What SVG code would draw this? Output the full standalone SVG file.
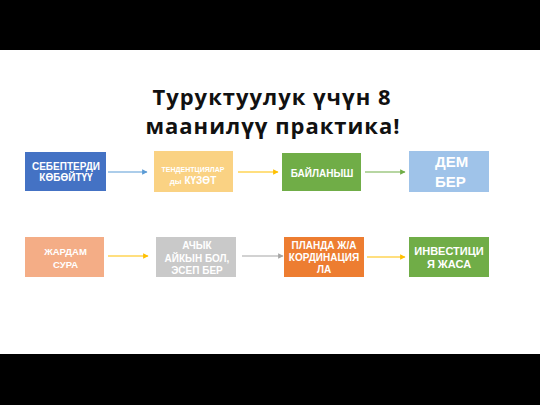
<svg xmlns="http://www.w3.org/2000/svg" width="540" height="405" viewBox="0 0 540 405">
<style>
.t{font-family:"Liberation Sans",Arial,sans-serif;font-weight:bold;fill:#fff;text-anchor:middle}
.title{font-family:"Open Sans","Liberation Sans",sans-serif;font-weight:bold;font-size:22px;letter-spacing:1px;fill:#111;text-anchor:middle}
.c{fill:none;stroke-width:1.2}
</style>
<defs>
<marker id="mb" viewBox="0 0 10 10" refX="9" refY="5" markerWidth="4.5" markerHeight="4.5" orient="auto"><path d="M0,0L10,5L0,10z" fill="#5B9BD5"/></marker>
<marker id="my" viewBox="0 0 10 10" refX="9" refY="5" markerWidth="4.5" markerHeight="4.5" orient="auto"><path d="M0,0L10,5L0,10z" fill="#FFC000"/></marker>
<marker id="mg" viewBox="0 0 10 10" refX="9" refY="5" markerWidth="4.5" markerHeight="4.5" orient="auto"><path d="M0,0L10,5L0,10z" fill="#70AD47"/></marker>
<marker id="mr" viewBox="0 0 10 10" refX="9" refY="5" markerWidth="4.5" markerHeight="4.5" orient="auto"><path d="M0,0L10,5L0,10z" fill="#A5A5A5"/></marker>
</defs>
<rect x="0" y="0" width="540" height="405" fill="#fff"/>
<rect x="0" y="0" width="540" height="50" fill="#000"/>
<rect x="0" y="354" width="540" height="51" fill="#000"/>
<text class="title" x="272" y="105">Туруктуулук үчүн 8</text>
<text class="title" x="273" y="134">маанилүү практика!</text>
<g id="connectors">
<line class="c" x1="108" y1="172" x2="147" y2="172" stroke="#5B9BD5" marker-end="url(#mb)"/>
<line class="c" x1="238" y1="172" x2="278" y2="172" stroke="#FFC000" marker-end="url(#my)"/>
<line class="c" x1="365" y1="172" x2="405" y2="172" stroke="#70AD47" marker-end="url(#mg)"/>
<line class="c" x1="108" y1="256" x2="148" y2="256" stroke="#FFC000" marker-end="url(#my)"/>
<line class="c" x1="242" y1="256" x2="283" y2="256" stroke="#A5A5A5" marker-end="url(#mr)"/>
<line class="c" x1="367" y1="257" x2="405" y2="257" stroke="#FFC000" marker-end="url(#my)"/>
</g>
<g id="n1"><rect x="25" y="152" width="81" height="39" fill="#4472C4"/>
<text class="t" x="66" y="169.5" font-size="10">СЕБЕПТЕРДИ</text><text class="t" x="66" y="181" font-size="10">КӨБӨЙТҮҮ</text></g>
<g id="n2"><rect x="154" y="151" width="79" height="41" fill="#FAD283"/>
<text class="t" x="193" y="172" font-size="7">ТЕНДЕНТЦИЯЛАР</text><text class="t" x="193" y="183.5" font-size="10"><tspan font-size="8">ды</tspan> КҮЗӨТ</text></g>
<g id="n3"><rect x="282" y="153" width="79" height="38" fill="#70AD47"/>
<text class="t" x="322" y="177" font-size="10">БАЙЛАНЫШ</text></g>
<g id="n4"><rect x="409" y="151" width="80" height="41" fill="#9FC3E9"/>
<text class="t" x="435" y="167" font-size="15" style="text-anchor:start">ДЕМ</text><text class="t" x="435" y="187" font-size="15" style="text-anchor:start">БЕР</text></g>
<g id="n5"><rect x="25" y="237" width="79" height="40" fill="#F4AD86"/>
<text class="t" x="65.5" y="255" font-size="9.5">ЖАРДАМ</text><text class="t" x="65.5" y="268" font-size="9.5">СУРА</text></g>
<g id="n6"><rect x="156" y="237" width="80" height="40" fill="#C9C9C9"/>
<text class="t" x="197" y="249" font-size="10">АЧЫК</text><text class="t" x="197" y="261.5" font-size="10">АЙКЫН БОЛ,</text><text class="t" x="197" y="274" font-size="10">ЭСЕП БЕР</text></g>
<g id="n7"><rect x="284" y="237" width="80" height="40" fill="#ED7D31"/>
<text class="t" x="324" y="249" font-size="10">ПЛАНДА Ж/А</text><text class="t" x="324" y="261" font-size="10">КОРДИНАЦИЯ</text><text class="t" x="324" y="273" font-size="10">ЛА</text></g>
<g id="n8"><rect x="409" y="237" width="80" height="40" fill="#70AD47"/>
<text class="t" x="449" y="255" font-size="11">ИНВЕСТИЦИ</text><text class="t" x="449" y="267.5" font-size="11">Я ЖАСА</text></g>
</svg>
